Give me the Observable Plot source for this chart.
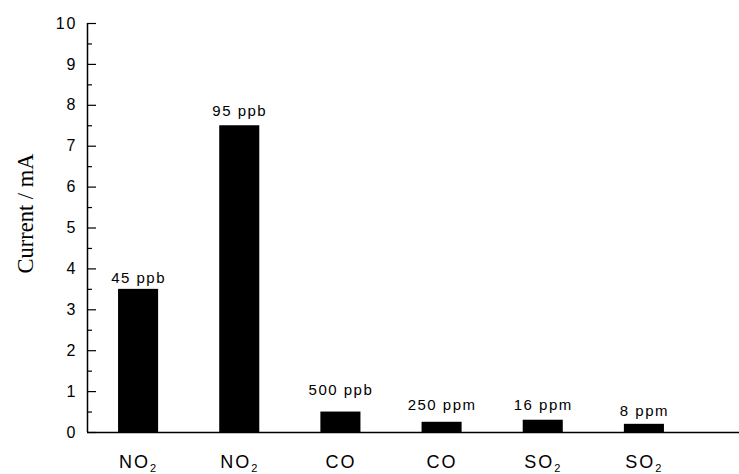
<!DOCTYPE html>
<html>
<head>
<meta charset="utf-8">
<script src="https://cdn.jsdelivr.net/npm/d3@7"></script>
<script src="https://cdn.jsdelivr.net/npm/@observablehq/plot@0.6"></script>
<style>
  html, body { margin: 0; padding: 0; background: #fff; }
  #chart svg { display: block; }
</style>
</head>
<body>
<div id="chart"></div>
<script>
const categories = ["NO₂", "NO₂", "CO", "CO", "SO₂", "SO₂"];
const currents = [3.5, 7.5, 0.5, 0.25, 0.3, 0.2];
const concentrations = ["45 ppb", "95 ppb", "500 ppb", "250 ppm", "16 ppm", "8 ppm"];
// heights (mA) at which the concentration annotations sit in the original
const labelLevels = [3.65, 7.75, 0.92, 0.56, 0.56, 0.40];
const yMajorTicks = [0, 1, 2, 3, 4, 5, 6, 7, 8, 9, 10];
const yMinorTicks = [0.5, 1.5, 2.5, 3.5, 4.5, 5.5, 6.5, 7.5, 8.5, 9.5];

const data = categories.map((c, i) => ({i, gas: c, current: currents[i], conc: concentrations[i], at: labelLevels[i]}));

const W = 739, H = 474, ML = 87, MR = 0, MT = 23, MB = 42;
const frameW = W - ML - MR;
const half = 0.198;

const chart = Plot.plot({
  width: W,
  height: H,
  marginLeft: ML,
  marginRight: MR,
  marginTop: MT,
  marginBottom: MB,
  style: {fontFamily: "Arial, 'Liberation Sans', sans-serif", background: "#fff", color: "#000"},
  x: {type: "linear", domain: [-0.505, 5.94], axis: null},
  y: {domain: [0, 10], axis: null},
  marks: [
    Plot.rectY(data, {x1: d => d.i - half, x2: d => d.i + half, y1: 0, y2: "current", fill: "#000"}),
    Plot.ruleY([0], {stroke: "#000", strokeWidth: 1.5}),
    Plot.ruleX([-0.505], {y1: 0, y2: 10, stroke: "#000", strokeWidth: 1.5}),
    Plot.ruleY(yMajorTicks, {y: d => d, insetRight: frameW - 9, stroke: "#000", strokeWidth: 1.2}),
    Plot.ruleY(yMinorTicks, {y: d => d, insetRight: frameW - 5, stroke: "#000", strokeWidth: 1.2}),
    Plot.text(yMajorTicks, {y: d => d, text: d => String(d), frameAnchor: "left", textAnchor: "end", dx: -10, fontSize: 16, fill: "#000", className: "ytick"}),
    Plot.text(data, {x: "i", text: "gas", frameAnchor: "bottom", lineAnchor: "top", dy: 23, fontSize: 18, fill: "#000", className: "xlab"}),
    Plot.text(data, {x: "i", y: "at", text: "conc", dy: -4.8, fontSize: 15, fill: "#000", className: "conc"}),
    Plot.text(["Current / mA"], {text: d => d, frameAnchor: "left", textAnchor: "middle", dx: -62, dy: -14.5, rotate: -90, fontSize: 22.5, fontFamily: "'Times New Roman', 'Liberation Serif', serif", fill: "#000"})
  ]
});

const svg = d3.select(chart);
svg.selectAll(".ytick text").style("letter-spacing", "2px");
svg.selectAll(".conc text").style("letter-spacing", "1.5px");
svg.selectAll(".xlab text").style("letter-spacing", "2px").each(function () {
  const t = d3.select(this);
  const s = t.text();
  if (s.includes("₂")) {
    const base = s.replace("₂", "");
    t.text(base);
    t.append("tspan").attr("dy", "3.5").attr("font-size", "11").text("2");
  }
});

document.getElementById("chart").appendChild(chart);
</script>
</body>
</html>
